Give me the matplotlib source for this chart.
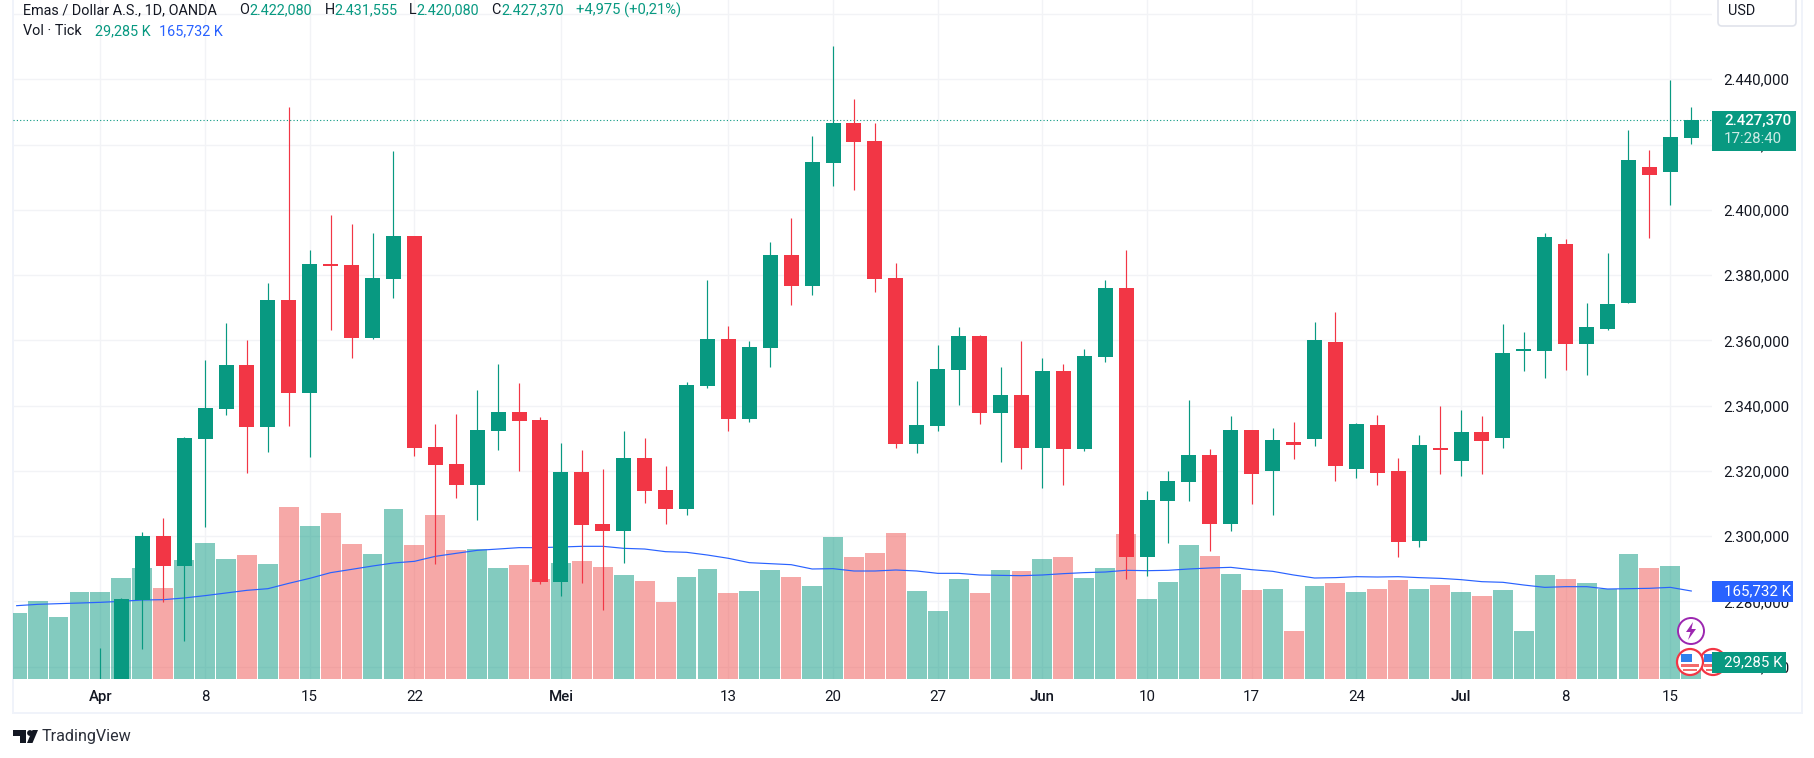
import matplotlib
matplotlib.use('Agg')
import matplotlib.pyplot as plt
import numpy as np
from matplotlib.patches import Rectangle, Circle, Polygon, FancyBboxPatch
from matplotlib.transforms import Affine2D

W, H = 1815, 758
GREEN = '#089981'
RED = '#F23645'
BLUE = '#2962FF'
TEXT = '#131722'
GRID = '#F2F3F6'
FRAME = '#F0F3FA'

# daily bars, 1 Apr .. 16 Jul (index 0 = 1 Apr)
opens = [2229, 2250, 2280.4, 2300.0, 2290.8, 2329.8, 2338.9, 2352.4, 2333.4, 2372.4,
         2343.9, 2383.4, 2383.1, 2360.7, 2378.8, 2392.0, 2327.3, 2322.1, 2315.7, 2332.2,
         2338.0, 2335.6, 2285.9, 2319.6, 2303.7, 2301.6, 2323.9, 2314.1, 2308.3, 2346.0,
         2360.4, 2335.9, 2357.6, 2386.2, 2376.7, 2414.4, 2426.6, 2421.1, 2379.1, 2328.2,
         2333.7, 2350.9, 2361.3, 2337.7, 2343.2, 2327.0, 2350.6, 2326.7, 2354.9, 2376.0,
         2293.6, 2310.7, 2316.6, 2324.8, 2303.7, 2332.5, 2320.0, 2328.8, 2329.8, 2359.5,
         2320.6, 2334.0, 2319.9, 2298.5, 2327.0, 2323.0, 2331.9, 2330.1, 2356.7, 2356.7,
         2389.5, 2358.9, 2363.5, 2371.4, 2413.1, 2411.6, 2422.08]
highs = [2265.7, 2281.0, 2301.2, 2305.5, 2330.4, 2354.0, 2365.3, 2360.1, 2377.6, 2431.5,
         2387.7, 2398.4, 2395.7, 2392.9, 2418.0, 2392.0, 2334.4, 2337.4, 2344.8, 2352.7,
         2346.9, 2336.5, 2328.5, 2326.4, 2320.6, 2332.2, 2330.1, 2321.5, 2347.2, 2378.5,
         2364.4, 2359.8, 2390.1, 2397.5, 2422.6, 2450.2, 2434.0, 2426.6, 2383.7, 2347.5,
         2358.6, 2364.1, 2361.6, 2351.8, 2359.8, 2354.6, 2352.7, 2357.3, 2378.5, 2387.7,
         2313.8, 2320.0, 2341.7, 2326.7, 2336.8, 2332.5, 2333.1, 2335.0, 2365.6, 2368.7,
         2334.7, 2337.1, 2323.9, 2331.0, 2339.9, 2338.6, 2336.8, 2365.0, 2362.5, 2392.9,
         2391.1, 2371.4, 2386.8, 2424.5, 2418.3, 2439.8, 2431.555]
lows = [2228, 2240, 2265.4, 2279.9, 2267.8, 2302.8, 2337.1, 2319.3, 2325.8, 2333.7,
        2324.2, 2363.2, 2354.6, 2360.5, 2373.0, 2324.5, 2291.4, 2311.7, 2304.9, 2326.4,
        2319.9, 2285.3, 2281.6, 2285.6, 2277.3, 2291.7, 2310.1, 2303.7, 2306.5, 2345.4,
        2332.2, 2335.0, 2351.8, 2370.8, 2373.9, 2407.3, 2406.1, 2374.8, 2327.0, 2325.5,
        2332.2, 2340.2, 2334.4, 2322.7, 2320.6, 2314.7, 2315.7, 2326.1, 2353.4, 2286.8,
        2287.8, 2297.9, 2310.7, 2295.4, 2301.6, 2309.8, 2306.5, 2323.6, 2327.6, 2316.9,
        2317.8, 2315.7, 2293.6, 2296.7, 2319.0, 2318.4, 2319.0, 2327.0, 2350.6, 2348.5,
        2350.9, 2349.4, 2363.2, 2371.4, 2391.4, 2401.5, 2420.08]
closes = [2250, 2280.7, 2300.0, 2290.8, 2330.1, 2339.3, 2352.4, 2333.4, 2372.4, 2343.9,
          2383.4, 2382.8, 2360.7, 2379.1, 2392.0, 2327.0, 2321.8, 2315.7, 2332.5, 2338.0,
          2335.3, 2285.9, 2319.6, 2303.4, 2301.6, 2323.9, 2313.8, 2308.3, 2346.3, 2360.4,
          2335.9, 2358.0, 2386.2, 2376.7, 2414.7, 2426.6, 2420.8, 2378.8, 2328.2, 2334.0,
          2351.2, 2361.3, 2337.7, 2343.2, 2327.0, 2350.6, 2326.7, 2355.2, 2376.0, 2293.6,
          2311.1, 2316.9, 2324.8, 2303.7, 2332.5, 2319.0, 2329.4, 2327.9, 2360.1, 2321.5,
          2334.4, 2319.3, 2298.2, 2327.9, 2326.4, 2331.9, 2329.1, 2356.1, 2357.0, 2391.7,
          2358.9, 2364.1, 2371.1, 2415.3, 2410.7, 2422.3, 2427.37]

# tick volume in K, starts 4 bars before 1 Apr
volumes = [124.3, 146.9, 116.8, 163.9, 163.9, 190.2, 209.1, 171.4, 224.1, 256.1,
           226.0, 233.5, 216.6, 323.9, 288.2, 312.6, 254.3, 235.4, 320.2, 252.4,
           308.9, 243.0, 244.8, 209.1, 214.7, 188.3, 218.5, 222.2, 210.9, 195.9,
           184.6, 145.0, 192.1, 207.2, 162.0, 165.7, 205.3, 192.1, 175.2, 267.4,
           229.8, 237.3, 275.0, 165.7, 128.1, 188.3, 162.0, 205.3, 203.4, 226.0,
           229.8, 190.2, 209.1, 273.1, 150.7, 182.7, 252.4, 231.7, 197.8, 167.6,
           169.5, 90.4, 175.2, 180.8, 163.9, 169.5, 186.5, 169.5, 177.0, 163.9,
           156.3, 167.6, 90.4, 195.9, 188.3, 180.8, 169.5, 235.4, 209.1, 212.8, 29.285]
vol_ma = [138.1, 140.6, 141.9, 143.1, 144.4, 146.3, 148.8, 149.4, 152.6, 157.0,
          162.0, 167.0, 170.1, 180.2, 189.6, 200.3, 206.5, 212.8, 218.5, 221.6,
          231.0, 236.7, 242.3, 244.8, 247.4, 247.4, 248.6, 249.9, 249.9, 246.1,
          244.8, 239.8, 238.6, 233.5, 227.3, 219.1, 217.2, 215.3, 207.2, 207.8,
          203.4, 203.4, 205.3, 203.4, 199.0, 199.0, 195.9, 195.2, 194.6, 195.9,
          198.4, 200.3, 201.5, 204.7, 204.0, 204.7, 207.2, 209.1, 210.3, 205.9,
          202.8, 195.9, 190.2, 190.9, 192.7, 192.1, 192.7, 190.9, 189.6, 187.1,
          183.3, 182.1, 177.0, 172.6, 173.9, 173.9, 169.5, 170.1, 170.8, 172.6, 165.732]

# 2.460,000 sits behind the USD box, so its label stays empty
price_ticks = [2260, 2280, 2300, 2320, 2340, 2360, 2380, 2400, 2420, 2440, 2460]
price_labels = ['2.260,000', '2.280,000', '2.300,000', '2.320,000', '2.340,000', '2.360,000',
                '2.380,000', '2.400,000', '2.420,000', '2.440,000', '']
time_ticks = [0, 5, 10, 15, 22, 30, 35, 40, 45, 50, 55, 60, 65, 70, 75]
time_labels = ['Apr', '8', '15', '22', 'Mei', '13', '20', '27', 'Jun', '10', '17', '24', 'Jul', '8', '15']
months = ['Apr', 'Mei', 'Jun', 'Jul']

last_close = 2427.37

plt.rcParams['font.family'] = ['Roboto', 'DejaVu Sans']

fig = plt.figure(figsize=(W / 100, H / 100), dpi=100, facecolor='white')
px = Affine2D().scale(1, -1).translate(0, H)  # picture pixels, y going down


def put(text, x, y, color=TEXT, size=10.4, ha='left', zorder=8, **kw):
    fig.text(x, y, text, color=color, fontsize=size, ha=ha, va='center',
             transform=px, zorder=zorder, **kw)


rect = [13.4 / W, 1 - 679 / H, (1711.8 - 13.4) / W, 679 / H]
xlim = (-4.157, 76.98)
ylim = (2256.2, 2464.3)

# back axes: grid and tick labels
back = fig.add_axes(rect, zorder=0)
back.set_xlim(xlim)
back.set_ylim(ylim)
back.yaxis.tick_right()
back.set_yticks(price_ticks, price_labels)
back.set_xticks(time_ticks, time_labels)
back.tick_params(axis='y', length=0, pad=8.4, labelsize=10.8, labelcolor=TEXT)
back.tick_params(axis='x', length=0, pad=8.2, labelsize=10.8, labelcolor=TEXT)
for lab in back.get_xticklabels():
    if lab.get_text() in months:
        lab.set_fontweight('medium')
back.grid(True, color=GRID, lw=1.0)
back.set_axisbelow(True)
for s in back.spines.values():
    s.set_visible(False)

# volume pane
vol = fig.add_axes(rect, zorder=1, sharex=back)
vol.patch.set_visible(False)
vol.set_ylim(0, 679 * 1.8834)
vol.axis('off')
vol_x = np.arange(len(volumes)) - 4
up = [True] * 4 + [c >= o for o, c in zip(opens, closes)]
for x, v, u in zip(vol_x, volumes, up):
    vol.bar(x, v, width=0.95, color=GREEN if u else '#EF5350', alpha=0.5, lw=0)
vol.plot(vol_x, vol_ma, color=BLUE, lw=0.85)

# candles
ax = fig.add_axes(rect, zorder=2, sharex=back, sharey=back)
ax.patch.set_visible(False)
ax.axis('off')
ax.axhline(last_close, color=GREEN, lw=0.8, ls=(0, (1, 2)), zorder=1)
for i, (o, h, l, c) in enumerate(zip(opens, highs, lows, closes)):
    col = GREEN if c >= o else RED
    ax.vlines(i, l, h, color=col, lw=0.85, zorder=2)
    ax.bar(i, max(abs(c - o), 0.6), bottom=min(o, c), width=0.717, color=col, lw=0, zorder=3)

# outer frame
for x0, y0, w, h in [(12, 0, 2, 714), (1801, 0, 2, 714), (12, 712, 1791, 2)]:
    fig.add_artist(Rectangle((x0, y0), w, h, transform=px, color=FRAME, lw=0, zorder=1))

# header
put('Emas / Dollar A.S., 1D, OANDA', 23, 10)
for name, nx, val, vx in [('O', 239, '2.422,080', 249), ('H', 324.5, '2.431,555', 334),
                          ('L', 409, '2.420,080', 416), ('C', 491.5, '2.427,370', 501)]:
    put(name, nx, 10)
    put(val, vx, 10, color=GREEN)
put('+4,975 (+0,21%)', 576, 10, color=GREEN, size=10.6)
put('Vol · Tick', 23, 31)
put('29,285 K', 94.6, 31, color=GREEN)
put('165,732 K', 159, 31, color=BLUE)

# USD box
fig.add_artist(FancyBboxPatch((1718, -10), 78, 36, boxstyle='round,pad=0,rounding_size=4',
                              transform=px, fc='white', ec='#E0E3EB', lw=1.2, zorder=5))
put('USD', 1728, 11, size=10.4)

# price tags on the axis
fig.add_artist(Rectangle((1712, 111), 84, 39.5, transform=px, color=GREEN, lw=0, zorder=5))
put('2.427,370', 1724, 120.7, color='white', size=10.8, fontweight='medium')
put('17:28:40', 1724, 138.7, color='#CDEBE5', size=10.8)
fig.add_artist(Rectangle((1712, 581), 81, 21, transform=px, color=BLUE, lw=0, zorder=5))
put('165,732 K', 1724, 591, color='white', size=10.8)
fig.add_artist(Rectangle((1712, 652), 73.5, 21, transform=px, color=GREEN, lw=0, zorder=5))
put('29,285 K', 1724, 662, color='white', size=10.8)

# event markers on the last bar
fig.add_artist(Circle((1691, 631), 13, transform=px, fc='white', ec='#9C27B0', lw=1.4, zorder=4))
fig.add_artist(Polygon([(1693, 622), (1686, 632), (1690.5, 632), (1688, 640), (1696, 629), (1691.5, 629)],
                       transform=px, color='#9C27B0', lw=0, zorder=4.1))
for cx in [1713, 1690]:
    fig.add_artist(Circle((cx, 662), 13, transform=px, fc='white', ec=RED, lw=1.6, zorder=4))
    fig.add_artist(Rectangle((cx - 9, 654), 11, 8, transform=px, color='#2F80ED', lw=0, zorder=4.1))
    fig.add_artist(Rectangle((cx - 9, 664), 18, 3, transform=px, color='#F36B6B', lw=0, zorder=4.1))
    fig.add_artist(Rectangle((cx - 7, 669), 14, 2, transform=px, color='#F36B6B', lw=0, zorder=4.1))

# TradingView logo
fig.add_artist(Polygon([(13, 730), (26, 730), (26, 743), (20, 743), (20, 736), (13, 736)],
                       transform=px, color=TEXT, lw=0, zorder=4))
fig.add_artist(Circle((30, 733), 2.9, transform=px, color=TEXT, lw=0, zorder=4))
fig.add_artist(Polygon([(32.5, 730), (38, 730), (32.5, 743), (27, 743)],
                       transform=px, color=TEXT, lw=0, zorder=4))
put('TradingView', 42, 737, size=11.6, color='#2A2E39')

fig.savefig('out.png', dpi=100)
